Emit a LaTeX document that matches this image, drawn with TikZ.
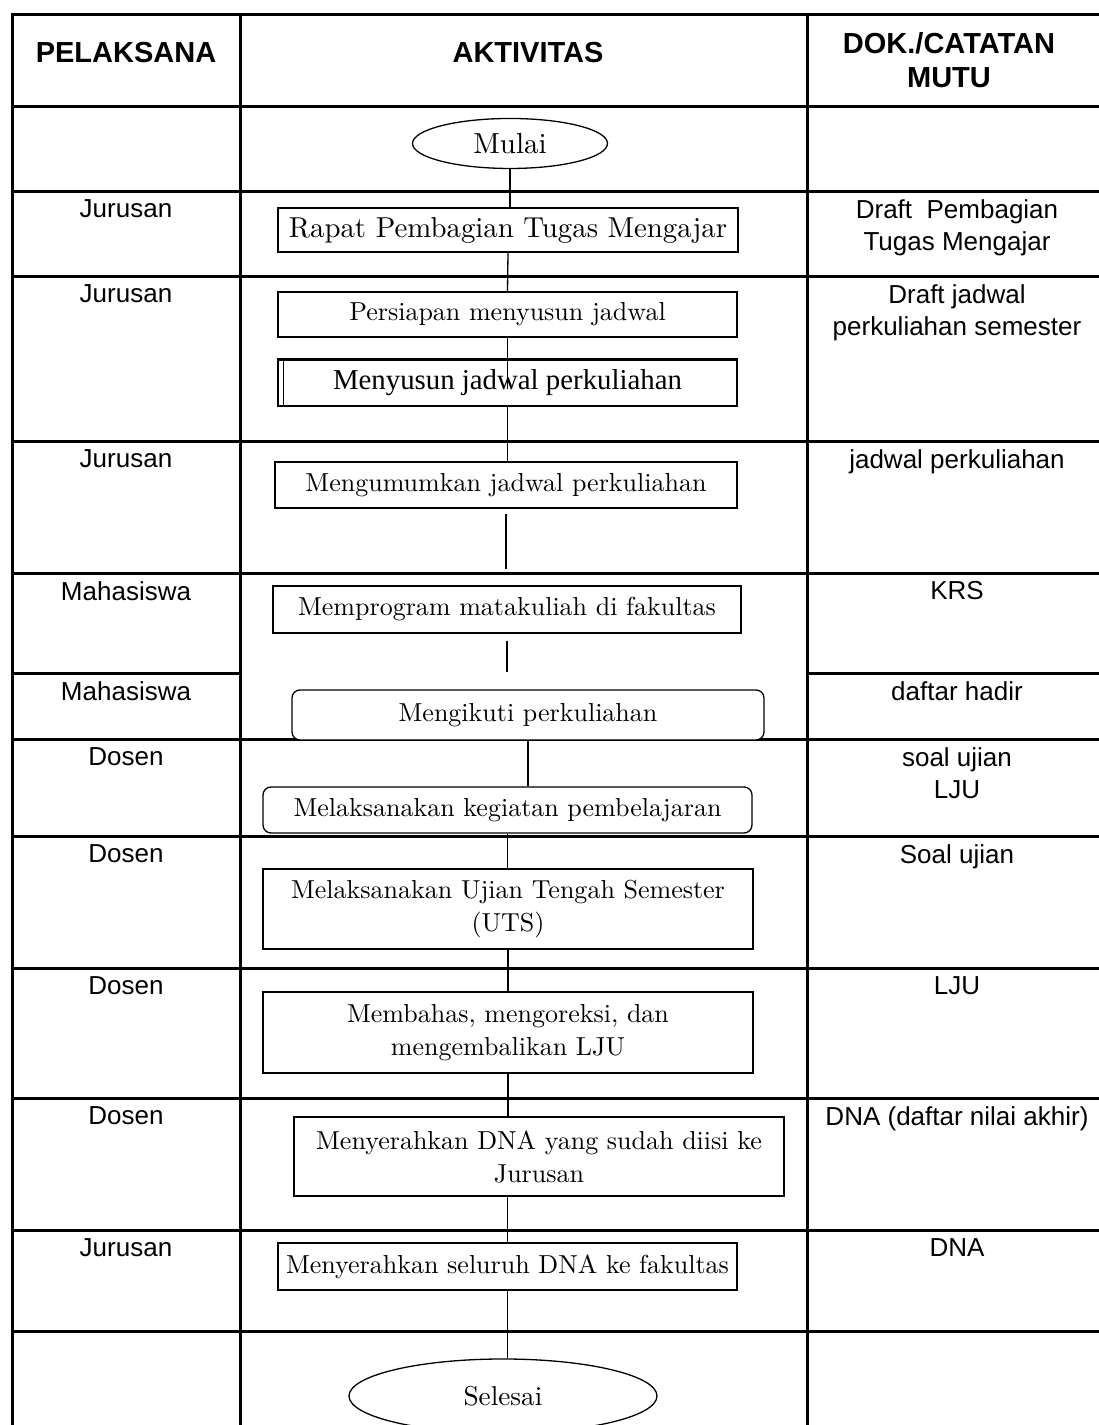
\documentclass[tikz,border=0pt]{standalone}
\usepackage{fontspec}
\newfontfamily\arialfont{Liberation Sans}
\newfontfamily\timesfont{Liberation Serif}
\newfontfamily\bookfont{lmroman10-regular}[Extension=.otf]
\usetikzlibrary{shapes.geometric}

\begin{document}
\begin{tikzpicture}[
    grid/.style={line width=0.060000cm, line cap=rect},
    flow/.style={line width=0.026000cm},
    actbox/.style={draw, fill=white, line width=0.026000cm, inner sep=0pt, align=center,
      font=\bookfont\fontsize{14.8}{18.8}\selectfont},
    roundbox/.style={actbox, rounded corners=0.160000cm},
    terminal/.style={ellipse, draw, fill=white, line width=0.026000cm, inner sep=0pt,
      font=\bookfont\fontsize{16.5}{20}\selectfont},
    headtext/.style={anchor=north, inner sep=0pt, align=center,
      font=\arialfont\bfseries\fontsize{16.5}{19.4}\selectfont},
    celltext/.style={anchor=north, inner sep=0pt, align=center,
      font=\arialfont\fontsize{14.8}{18.2}\selectfont},
  ]
  \useasboundingbox (0,0) rectangle (21.980000,28.500000);
  \clip (0,0) rectangle (21.980000,28.500000);
  {

  % Drawing table rows
  \draw [grid] (0.240000,28.200000) -- (22.300000,28.200000);%
  \draw [grid] (0.240000,26.360000) -- (22.300000,26.360000);%
  \draw [grid] (0.240000,24.660000) -- (22.300000,24.660000);%
  \draw [grid] (0.240000,22.960000) -- (22.300000,22.960000);%
  \draw [grid] (0.240000,19.660000) -- (22.300000,19.660000);%
  \draw [grid] (0.240000,17.020000) -- (22.300000,17.020000);%
  \draw [grid] (0.240000,15.020000) -- (4.800000,15.020000);%
  \draw [grid] (16.140000,15.020000) -- (22.300000,15.020000);%
  \draw [grid] (0.240000,13.700000) -- (22.300000,13.700000);%
  \draw [grid] (0.240000,11.760000) -- (22.300000,11.760000);%
  \draw [grid] (0.240000,9.120000) -- (22.300000,9.120000);%
  \draw [grid] (0.240000,6.520000) -- (22.300000,6.520000);%
  \draw [grid] (0.240000,3.880000) -- (22.300000,3.880000);%
  \draw [grid] (0.240000,1.860000) -- (22.300000,1.860000);%

  % Drawing table columns
  \draw [grid] (0.240000,28.200000) -- (0.240000,-0.200000);%
  \draw [grid] (4.800000,28.200000) -- (4.800000,-0.200000);%
  \draw [grid] (16.140000,28.200000) -- (16.140000,-0.200000);%

  % Marking header texts
  \draw (2.520000,27.660000) node [headtext] (hpel) {PELAKSANA};%
  \draw (10.560000,27.660000) node [headtext] (hakt) {AKTIVITAS};%
  \draw (18.980000,27.860000) node [headtext] (hdok) {DOK./CATATAN\\MUTU};%

  % Marking pelaksana column
  \draw (2.520000,24.510000) node [celltext] (pel1) {Jurusan};%
  \draw (2.520000,22.810000) node [celltext] (pel2) {Jurusan};%
  \draw (2.520000,19.510000) node [celltext] (pel3) {Jurusan};%
  \draw (2.520000,16.870000) node [celltext] (pel4) {Mahasiswa};%
  \draw (2.520000,14.870000) node [celltext] (pel5) {Mahasiswa};%
  \draw (2.520000,13.550000) node [celltext] (pel6) {Dosen};%
  \draw (2.520000,11.610000) node [celltext] (pel7) {Dosen};%
  \draw (2.520000,8.970000) node [celltext] (pel8) {Dosen};%
  \draw (2.520000,6.370000) node [celltext] (pel9) {Dosen};%
  \draw (2.520000,3.730000) node [celltext] (pel10) {Jurusan};%

  % Marking dokumen column
  \draw (19.140000,24.510000) node [celltext] (dok1) {Draft\ \ Pembagian\\Tugas Mengajar};%
  \draw (19.140000,22.810000) node [celltext] (dok2) {Draft jadwal\\perkuliahan semester};%
  \draw (19.140000,19.510000) node [celltext] (dok3) {jadwal perkuliahan};%
  \draw (19.140000,16.870000) node [celltext] (dok4) {KRS};%
  \draw (19.140000,14.870000) node [celltext] (dok5) {daftar hadir};%
  \draw (19.140000,13.550000) node [celltext] (dok6) {soal ujian\\LJU};%
  \draw (19.140000,11.610000) node [celltext] (dok7) {Soal ujian};%
  \draw (19.140000,8.970000) node [celltext] (dok8) {LJU};%
  \draw (19.140000,6.370000) node [celltext] (dok9) {DNA (daftar nilai akhir)};%
  \draw (19.140000,3.730000) node [celltext] (dok10) {DNA};%

  % Drawing activity boxes
  \node [terminal, minimum width=3.900000cm, minimum height=1.000000cm] (mulai) at (10.200000,25.630000) {Mulai};%
  \node [actbox, minimum width=9.200000cm, minimum height=0.880000cm, font=\bookfont\fontsize{16.4}{19}\selectfont] (rapat) at (10.160000,23.900000) {Rapat Pembagian Tugas Mengajar};%
  \node [actbox, minimum width=9.180000cm, minimum height=0.900000cm] (persiapan) at (10.150000,22.210000) {Persiapan menyusun jadwal};%
  \node [actbox, minimum width=9.180000cm, minimum height=0.920000cm, font=\timesfont\fontsize{16.4}{19}\selectfont] (menyusun) at (10.150000,20.840000) {Menyusun jadwal perkuliahan};%
  \node [actbox, minimum width=9.240000cm, minimum height=0.920000cm] (umumkan) at (10.120000,18.800000) {Mengumumkan jadwal perkuliahan};%
  \node [actbox, minimum width=9.360000cm, minimum height=0.940000cm] (program) at (10.140000,16.310000) {Memprogram matakuliah di fakultas};%
  \node [roundbox, minimum width=9.440000cm, minimum height=1.000000cm] (ikuti) at (10.560000,14.200000) {Mengikuti perkuliahan};%
  \node [roundbox, minimum width=9.780000cm, minimum height=0.920000cm] (kegiatan) at (10.150000,12.300000) {Melaksanakan kegiatan pembelajaran};%
  \node [actbox, minimum width=9.800000cm, minimum height=1.600000cm] (uts) at (10.160000,10.320000) {Melaksanakan Ujian Tengah Semester\\(UTS)};%
  \node [actbox, minimum width=9.800000cm, minimum height=1.620000cm] (bahas) at (10.160000,7.850000) {Membahas, mengoreksi, dan\\mengembalikan LJU};%
  \node [actbox, minimum width=9.800000cm, minimum height=1.580000cm] (diisi) at (10.780000,5.370000) {Menyerahkan DNA yang sudah diisi ke\\Jurusan};%
  \node [actbox, minimum width=9.180000cm, minimum height=0.940000cm] (seluruh) at (10.150000,3.170000) {Menyerahkan seluruh DNA ke fakultas};%
  \node [terminal, minimum width=6.160000cm, minimum height=1.480000cm, font=\bookfont\fontsize{15.5}{19}\selectfont] (selesai) at (10.060000,0.580000) {Selesai};%

  % Double edge of box menyusun
  \draw [line width=0.055000cm] (menyusun.north west) -- (menyusun.north east);%
  \draw [flow] ([xshift=0.120000cm]menyusun.north west) -- ([xshift=0.120000cm]menyusun.south west);%

  % Drawing flow lines
  \draw [flow] (mulai.south) -- (mulai.south |- rapat.north);%
  \draw [flow] (rapat.south) -- (persiapan.north);%
  \draw [flow] (persiapan.south) -- ([yshift=-0.600000cm]menyusun.north);%
  \draw [flow] (menyusun.south) -- (menyusun.south |- umumkan.north);%
  \draw [flow, shorten <=0.100000cm, shorten >=0.320000cm] (umumkan.south) -- (umumkan.south |- program.north);%
  \draw [flow, shorten <=0.140000cm, shorten >=0.340000cm] (program.south) -- (program.south |- ikuti.north);%
  \draw [flow] (ikuti.south) -- (ikuti.south |- kegiatan.north);%
  \draw [flow] (kegiatan.south) -- (kegiatan.south |- uts.north);%
  \draw [flow] (uts.south) -- (bahas.north);%
  \draw [flow] (bahas.south) -- (bahas.south |- diisi.north);%
  \draw [flow] (seluruh.north |- diisi.south) -- (seluruh.north);%
  \draw [flow] (seluruh.south) -- (seluruh.south |- selesai.north);%
  }
\end{tikzpicture}
\end{document}
